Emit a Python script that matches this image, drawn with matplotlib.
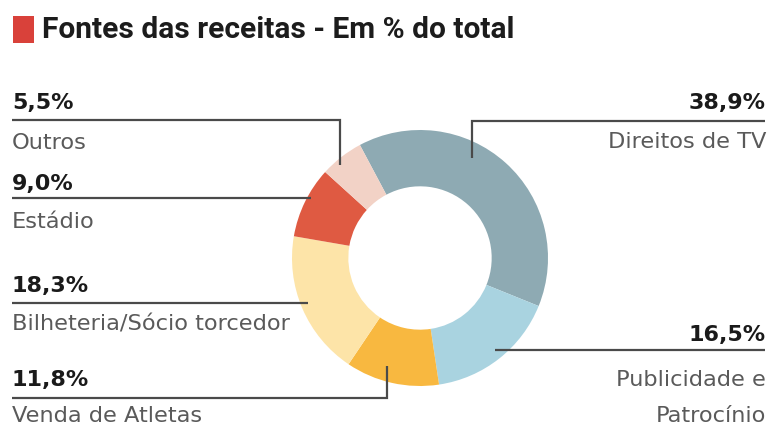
import matplotlib
matplotlib.use("Agg")
import matplotlib.pyplot as plt
from matplotlib import font_manager
from matplotlib.patches import Rectangle

# ---- data ----
categories = ["Direitos de TV", "Publicidade e\nPatrocínio", "Venda de Atletas",
              "Bilheteria/Sócio torcedor", "Estádio", "Outros"]
values = [38.9, 16.5, 11.8, 18.3, 9.0, 5.5]
pct_labels = ["38,9%", "16,5%", "11,8%", "18,3%", "9,0%", "5,5%"]
colors = ["#8eaab3", "#a9d3e0", "#f8b840", "#fde4a8", "#df5a42", "#f2d2c6"]
title = "Fontes das receitas - Em % do total"


def pick(names):
    for n in names:
        try:
            font_manager.findfont(font_manager.FontProperties(family=n), fallback_to_default=False)
            return n
        except Exception:
            pass
    return "DejaVu Sans"


title_font = pick(["Roboto", "DejaVu Sans"])
label_font = "DejaVu Sans"

W, H = 771, 428
fig = plt.figure(figsize=(W / 100, H / 100), dpi=100)
fig.patch.set_facecolor("white")

# donut axes (center ~ (420,258) px, radius ~128 px)
cx, cy, R = 420, 258, 128
pax = fig.add_axes([(cx - R) / W, (H - cy - R) / H, 2 * R / W, 2 * R / H])
wedges, _ = pax.pie(values, colors=colors, startangle=118, counterclock=False,
                    radius=1.0, wedgeprops=dict(width=0.44, edgecolor="none"))
pax.set_xlim(-1, 1)
pax.set_ylim(-1, 1)
pax.set_aspect("equal")
pax.axis("off")

# overlay in pixel coords (y down)
ov = fig.add_axes([0, 0, 1, 1], zorder=5)
ov.set_xlim(0, W)
ov.set_ylim(H, 0)
ov.axis("off")
ov.patch.set_alpha(0)

# title
ov.add_patch(Rectangle((13, 16), 21, 27, color="#d9413a", lw=0))
ov.text(42, 38, title, fontsize=21.5, fontweight="bold", family=title_font,
        color="#1c1c1c", ha="left", va="baseline")

line_col = "#4a4a4a"
lw = 1.6
pct_col = "#1a1a1a"
lab_col = "#5a5a5a"
pfs = 16
lfs = 16.2

# layout: (side, pct_baseline, label_baseline, connector path)
layout = {
    "Outros": ("L", 109, 149, [(12, 120), (340, 120), (340, 165)]),
    "Estádio": ("L", 190, 228, [(12, 198), (311, 198)]),
    "Bilheteria/Sócio torcedor": ("L", 292, 331, [(12, 303), (308, 303)]),
    "Venda de Atletas": ("L", 386, 422, [(12, 398), (387, 398), (387, 366)]),
    "Direitos de TV": ("R", 109, 148, [(765, 121), (472, 121), (472, 158)]),
    "Publicidade e\nPatrocínio": ("R", 341, 386, [(765, 350), (495, 350)]),
}

for cat, pct in zip(categories, pct_labels):
    side, pb, lb, path = layout[cat]
    xs = [p[0] for p in path]
    ys = [p[1] for p in path]
    ov.plot(xs, ys, color=line_col, lw=lw, solid_capstyle="butt", solid_joinstyle="miter")
    if side == "L":
        x, ha = 12, "left"
    else:
        x, ha = 766, "right"
    ov.text(x, pb, pct, fontsize=pfs, fontweight="bold", family=label_font,
            color=pct_col, ha=ha, va="baseline")
    lines = cat.split("\n")
    for i, t in enumerate(lines):
        ov.text(x, lb + i * 36, t, fontsize=lfs, family=label_font,
                color=lab_col, ha=ha, va="baseline")

fig.savefig("out.png", dpi=100, facecolor="white")
